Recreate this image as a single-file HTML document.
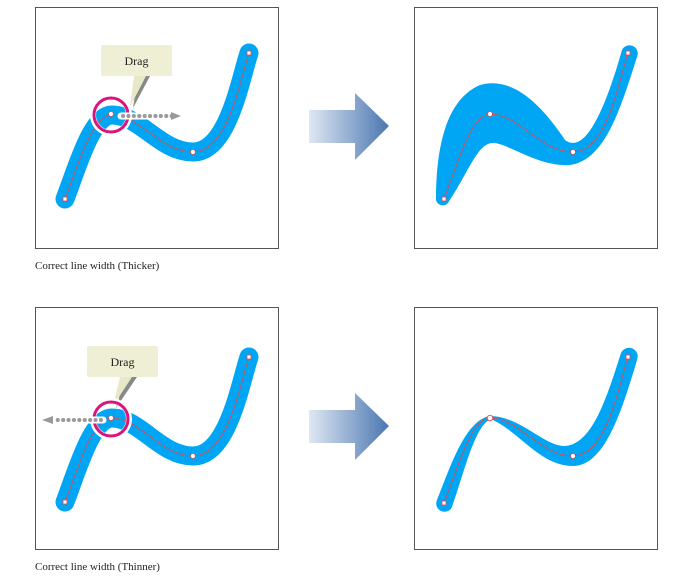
<!DOCTYPE html>
<html><head><style>
body{margin:0;background:#fff;}
svg{display:block;}
text{font-family:"Liberation Serif",serif;}
</style></head><body>
<svg width="693" height="580" viewBox="0 0 693 580" xmlns="http://www.w3.org/2000/svg">
<defs>
<linearGradient id="ag" x1="0" x2="1" y1="0" y2="0">
<stop offset="0" stop-color="#dfe8f3"/><stop offset="1" stop-color="#4a76b0"/>
</linearGradient>
</defs>
<!-- frames -->
<rect x="35.5" y="7.5" width="243" height="241" fill="#fff" stroke="#555"/>
<rect x="414.5" y="7.5" width="243" height="241" fill="#fff" stroke="#555"/>
<rect x="35.5" y="307.5" width="243" height="242" fill="#fff" stroke="#555"/>
<rect x="414.5" y="307.5" width="243" height="242" fill="#fff" stroke="#555"/>

<!-- arrows -->
<path d="M309,110 H355 V93 L389,126 L355,160 V143 H309 Z" fill="url(#ag)"/>
<path d="M309,410 H355 V393 L389,426 L355,460 V443 H309 Z" fill="url(#ag)"/>

<!-- top-left -->
<path d="M65,199 C78,165 92,115 112,115 C140,115 160,152 193,152 C228,152 240,80 249,53" fill="none" stroke="#00a6f4" stroke-width="19" stroke-linecap="round"/>
<path d="M65,199 C78,165 92,115 112,115 C140,115 160,152 193,152 C228,152 240,80 249,53" fill="none" stroke="#ee4444" stroke-width="0.8"/>
<!-- callout -->
<path d="M138,76 L150,76 L133,108 Z" fill="#888"/>
<path d="M134,76 L146,76 L130,107 Z" fill="#e8e8c8"/>
<rect x="101" y="45" width="71" height="31" rx="2" fill="#efefd6"/>
<text x="136.5" y="65" font-size="12" text-anchor="middle" fill="#222">Drag</text>
<circle cx="111" cy="115" r="18" fill="none" stroke="#fff" stroke-width="6"/>
<circle cx="111" cy="115" r="17" fill="none" stroke="#d8157a" stroke-width="3"/>
<line x1="121" y1="116" x2="173" y2="116" stroke="#fff" stroke-width="7" stroke-linecap="round"/>
<line x1="123" y1="116" x2="172" y2="116" stroke="#9a9a9a" stroke-width="4" stroke-dasharray="0.1 5.3" stroke-linecap="round"/>
<path d="M171,112 L181,116 L171,120 Z" fill="#9a9a9a"/>
<circle cx="111" cy="114" r="2.5" fill="#fff" stroke="#e44" stroke-width="0.8"/>
<circle cx="193" cy="152" r="2.5" fill="#fff" stroke="#e44" stroke-width="0.8"/>
<rect x="63" y="197" width="4" height="4" fill="#fff" stroke="#e44" stroke-width="0.8"/>
<rect x="247" y="51" width="4" height="4" fill="#fff" stroke="#e44" stroke-width="0.8"/>

<!-- top-right -->
<path d="M436,200 C436,150 445,100 480,85 C515,75 545,110 565,140 C585,155 605,110 622,50 A8,8 0 0 1 637,57 C620,110 605,160 570,165 C540,167 510,145 495,143 C478,141 470,170 448,203 A7,7 0 0 1 436,200 Z" fill="#00a6f4"/>
<path d="M444,199 C457,165 471,114 490,114 C519,114 540,152 573,152 C607,152 619,80 628,53" fill="none" stroke="#ee4444" stroke-width="0.8"/>
<circle cx="490" cy="114" r="2.5" fill="#fff" stroke="#e44" stroke-width="0.8"/>
<circle cx="573" cy="152" r="2.5" fill="#fff" stroke="#e44" stroke-width="0.8"/>
<rect x="442" y="197" width="4" height="4" fill="#fff" stroke="#e44" stroke-width="0.8"/>
<rect x="626" y="51" width="4" height="4" fill="#fff" stroke="#e44" stroke-width="0.8"/>

<text x="35" y="269" font-size="11" fill="#222">Correct line width (Thicker)</text>

<!-- bottom-left -->
<path d="M65,502 C78,468 92,418 112,418 C140,418 160,456 193,456 C228,456 240,384 249,357" fill="none" stroke="#00a6f4" stroke-width="19" stroke-linecap="round"/>
<path d="M65,502 C78,468 92,418 112,418 C140,418 160,456 193,456 C228,456 240,384 249,357" fill="none" stroke="#ee4444" stroke-width="0.8"/>
<path d="M125,377 L137,377 L116,408 Z" fill="#888"/>
<path d="M120,377 L132,377 L113,406 Z" fill="#e8e8c8"/>
<rect x="87" y="346" width="71" height="31" rx="2" fill="#efefd6"/>
<text x="122.5" y="366" font-size="12" text-anchor="middle" fill="#222">Drag</text>
<circle cx="111" cy="419" r="18" fill="none" stroke="#fff" stroke-width="6"/>
<circle cx="111" cy="419" r="17" fill="none" stroke="#d8157a" stroke-width="3"/>
<line x1="103" y1="420" x2="52" y2="420" stroke="#fff" stroke-width="7" stroke-linecap="round"/>
<line x1="101" y1="420" x2="53" y2="420" stroke="#9a9a9a" stroke-width="4" stroke-dasharray="0.1 5.3" stroke-linecap="round"/>
<path d="M53,416 L42,420 L53,424 Z" fill="#9a9a9a"/>
<circle cx="111" cy="418" r="2.5" fill="#fff" stroke="#e44" stroke-width="0.8"/>
<circle cx="193" cy="456" r="2.5" fill="#fff" stroke="#e44" stroke-width="0.8"/>
<rect x="63" y="500" width="4" height="4" fill="#fff" stroke="#e44" stroke-width="0.8"/>
<rect x="247" y="355" width="4" height="4" fill="#fff" stroke="#e44" stroke-width="0.8"/>

<!-- bottom-right -->
<path d="M437,500 C450,468 465,420 490,416 C520,416 545,447 565,446 C592,444 606,400 621,353 A8,8 0 0 1 637,360 C622,410 605,466 573,466 C540,466 520,432 491,419 C475,425 465,470 452,507 A8,8 0 0 1 437,500 Z" fill="#00a6f4"/>
<path d="M444,503 C457,470 471,418 490,418 C519,418 540,456 573,456 C607,456 619,384 628,357" fill="none" stroke="#ee4444" stroke-width="0.8"/>
<circle cx="490" cy="418" r="2.8" fill="#fff" stroke="#e44" stroke-width="0.9"/>
<circle cx="573" cy="456" r="2.5" fill="#fff" stroke="#e44" stroke-width="0.8"/>
<rect x="442" y="501" width="4" height="4" fill="#fff" stroke="#e44" stroke-width="0.8"/>
<rect x="626" y="355" width="4" height="4" fill="#fff" stroke="#e44" stroke-width="0.8"/>

<text x="35" y="570" font-size="11" fill="#222">Correct line width (Thinner)</text>
</svg>
</body></html>
